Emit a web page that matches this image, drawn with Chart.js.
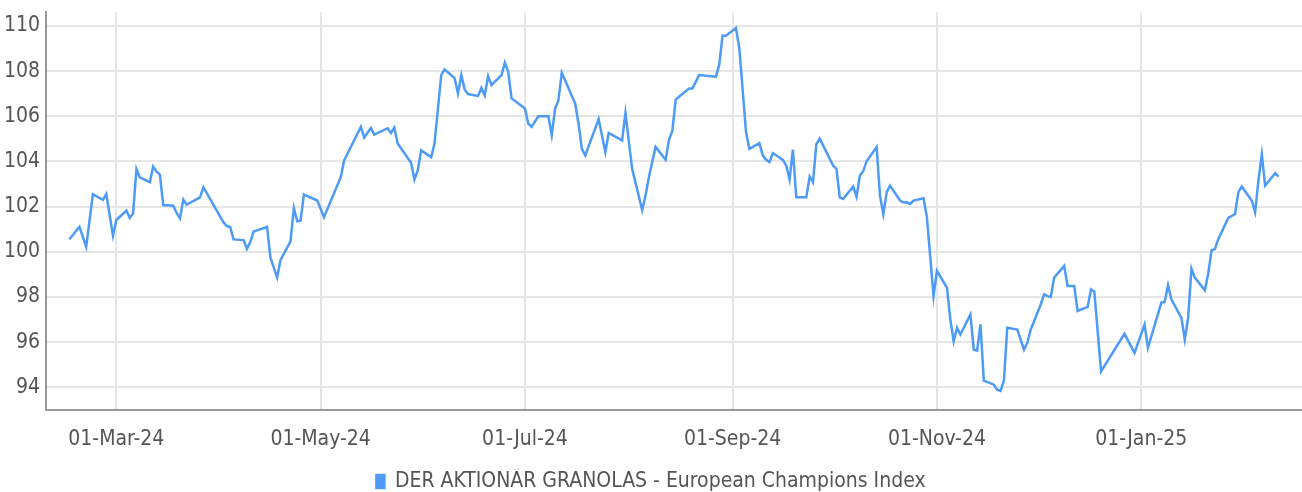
<!DOCTYPE html>
<html>
<head>
<meta charset="utf-8">
<script src="https://cdn.jsdelivr.net/npm/chart.js@4.4.1/dist/chart.umd.min.js"></script>
<style>
  html, body { margin: 0; padding: 0; background: #fff; overflow: hidden; }
</style>
</head>
<body>
<canvas id="myChart" width="1302" height="492"></canvas>
<script>
// Index values
const seriesName = 'DER AKTIONÄR GRANOLAS - European Champions Index';

const dates = [
  '2024-02-16','2024-02-19','2024-02-21','2024-02-23','2024-02-26','2024-02-27','2024-02-29','2024-03-01',
  '2024-03-04','2024-03-05','2024-03-06','2024-03-07','2024-03-08','2024-03-11','2024-03-12','2024-03-13',
  '2024-03-14','2024-03-15','2024-03-18','2024-03-19','2024-03-20','2024-03-21','2024-03-22','2024-03-26',
  '2024-03-27','2024-04-02','2024-04-03','2024-04-04','2024-04-05','2024-04-08','2024-04-09','2024-04-10',
  '2024-04-11','2024-04-12','2024-04-15','2024-04-16','2024-04-18','2024-04-19','2024-04-22','2024-04-23',
  '2024-04-24','2024-04-25','2024-04-26','2024-04-30','2024-05-02','2024-05-07','2024-05-08','2024-05-13',
  '2024-05-14','2024-05-16','2024-05-17','2024-05-21','2024-05-22','2024-05-23','2024-05-24','2024-05-28',
  '2024-05-29','2024-05-30','2024-05-31','2024-06-03','2024-06-04','2024-06-06','2024-06-07','2024-06-10',
  '2024-06-11','2024-06-12','2024-06-13','2024-06-14','2024-06-17','2024-06-18','2024-06-19','2024-06-20',
  '2024-06-21','2024-06-24','2024-06-25','2024-06-26','2024-06-27','2024-07-01','2024-07-02','2024-07-03',
  '2024-07-05','2024-07-08','2024-07-09','2024-07-10','2024-07-11','2024-07-12','2024-07-16','2024-07-17',
  '2024-07-18','2024-07-19','2024-07-23','2024-07-25','2024-07-26','2024-07-30','2024-07-31','2024-08-02',
  '2024-08-05','2024-08-06','2024-08-07','2024-08-09','2024-08-12','2024-08-13','2024-08-14','2024-08-15',
  '2024-08-16','2024-08-19','2024-08-20','2024-08-22','2024-08-27','2024-08-28','2024-08-29','2024-08-30',
  '2024-09-02','2024-09-03','2024-09-05','2024-09-06','2024-09-09','2024-09-10','2024-09-11','2024-09-12',
  '2024-09-13','2024-09-16','2024-09-17','2024-09-18','2024-09-19','2024-09-20','2024-09-23','2024-09-24',
  '2024-09-25','2024-09-26','2024-09-27','2024-10-01','2024-10-02','2024-10-03','2024-10-04','2024-10-07',
  '2024-10-08','2024-10-09','2024-10-10','2024-10-11','2024-10-14','2024-10-15','2024-10-16','2024-10-17',
  '2024-10-18','2024-10-21','2024-10-22','2024-10-23','2024-10-24','2024-10-25','2024-10-28','2024-10-29',
  '2024-10-31','2024-11-01','2024-11-04','2024-11-05','2024-11-06','2024-11-07','2024-11-08','2024-11-11',
  '2024-11-12','2024-11-13','2024-11-14','2024-11-15','2024-11-18','2024-11-19','2024-11-20','2024-11-21',
  '2024-11-22','2024-11-25','2024-11-27','2024-11-28','2024-11-29','2024-12-02','2024-12-03','2024-12-04',
  '2024-12-05','2024-12-06','2024-12-09','2024-12-10','2024-12-12','2024-12-13','2024-12-16','2024-12-17',
  '2024-12-18','2024-12-20','2024-12-27','2024-12-30','2025-01-02','2025-01-03','2025-01-07','2025-01-08',
  '2025-01-09','2025-01-10','2025-01-13','2025-01-14','2025-01-15','2025-01-16','2025-01-17','2025-01-20',
  '2025-01-21','2025-01-22','2025-01-23','2025-01-24','2025-01-27','2025-01-29','2025-01-30','2025-01-31',
  '2025-02-03','2025-02-04','2025-02-05','2025-02-06','2025-02-07','2025-02-10','2025-02-11'
];

const values = [
  100.56,101.11,100.22,102.55,102.30,102.56,100.71,101.41,
  101.82,101.50,101.70,103.67,103.30,103.08,103.78,103.55,
  103.42,102.07,102.04,101.72,101.48,102.31,102.09,102.41,
  102.86,101.30,101.14,101.10,100.55,100.52,100.13,100.43,
  100.90,100.95,101.10,99.75,98.86,99.63,100.46,101.94,
  101.35,101.38,102.53,102.27,101.53,103.30,104.04,105.53,
  105.05,105.48,105.19,105.47,105.26,105.50,104.79,103.94,
  103.20,103.60,104.49,104.19,104.79,107.82,108.07,107.69,
  107.01,107.82,107.19,106.98,106.90,107.25,106.92,107.78,
  107.38,107.82,108.37,107.97,106.79,106.34,105.67,105.53,
  106.00,106.00,105.16,106.34,106.71,107.93,106.56,105.67,
  104.56,104.27,105.88,104.41,105.26,104.93,106.15,103.67,
  101.85,102.49,103.30,104.64,104.07,104.96,105.35,106.74,
  106.86,107.23,107.23,107.82,107.75,108.27,109.57,109.56,
  109.90,109.01,105.30,104.56,104.81,104.27,104.07,103.97,
  104.37,104.07,103.82,103.20,104.52,102.41,102.41,103.33,
  103.08,104.76,105.01,103.82,103.67,102.41,102.34,102.89,
  102.44,103.38,103.57,104.01,104.64,102.49,101.67,102.64,
  102.93,102.27,102.18,102.19,102.12,102.27,102.37,101.55,
  98.04,99.16,98.41,97.01,96.04,96.64,96.34,97.23,
  95.67,95.63,96.79,94.30,94.12,93.90,93.85,94.30,
  96.64,96.56,95.67,95.97,96.56,97.67,98.12,98.04,
  98.00,98.86,99.38,98.49,98.49,97.38,97.56,98.34,
  98.24,94.71,96.37,95.53,96.79,95.75,97.75,97.78,
  98.53,97.90,97.08,96.12,97.08,99.26,98.86,98.30,
  99.04,100.07,100.12,100.56,101.50,101.67,102.64,102.89,
  102.27,101.75,103.16,104.31,102.93,103.48,103.33
];

const tickDates = ['2024-03-01', '2024-05-01', '2024-07-01', '2024-09-01', '2024-11-01', '2025-01-01'];
const tickLabels = ['01-Mar-24', '01-May-24', '01-Jul-24', '01-Sep-24', '01-Nov-24', '01-Jan-25'];
const yTicks = [94, 96, 98, 100, 102, 104, 106, 108, 110];

// days counted from 01-Mar-24 (no date adapter needed)
const base = Date.UTC(2024, 2, 1);
function dayOf(s) {
  const p = s.split('-').map(Number);
  return (Date.UTC(p[0], p[1] - 1, p[2]) - base) / 86400000;
}

const points = dates.map((d, i) => ({ x: dayOf(d), y: values[i] }));
const tickDays = tickDates.map(dayOf);

const lineColor = 'rgb(77, 155, 246)';
const textColor = '#555';
const fontFamily = "'Liberation Sans Narrow', 'DejaVu Sans Condensed', sans-serif";
const font = { family: fontFamily, size: 21 };

const ctx = document.getElementById('myChart').getContext('2d');
const myChart = new Chart(ctx, {
  type: 'line',
  data: {
    datasets: [{
      label: seriesName,
      data: points,
      borderColor: lineColor,
      backgroundColor: lineColor,
      borderWidth: 2.5,
      pointRadius: 0,
      tension: 0
    }]
  },
  options: {
    responsive: false,
    animation: false,
    layout: { padding: { top: 12, left: 0, right: 0, bottom: -10 } },
    plugins: {
      tooltip: { enabled: false },
      legend: {
        position: 'bottom',
        labels: {
          color: textColor,
          font: font,
          boxWidth: 8,
          boxHeight: 13,
          padding: 2
        }
      }
    },
    scales: {
      x: {
        type: 'linear',
        min: -21,
        max: 354,
        afterBuildTicks: (scale) => { scale.ticks = tickDays.map(v => ({ value: v })); },
        afterFit: (scale) => { scale.height = 59; },
        ticks: {
          autoSkip: false,
          maxRotation: 0,
          color: textColor,
          font: font,
          padding: 17,
          callback: (v, i) => tickLabels[i]
        },
        grid: { color: '#e6e6e6', lineWidth: 2, drawTicks: false },
        border: { color: '#999', width: 2 }
      },
      y: {
        min: 93,
        max: 110.6,
        afterBuildTicks: (scale) => { scale.ticks = yTicks.map(v => ({ value: v })); },
        afterFit: (scale) => { scale.width = 46; },
        ticks: {
          color: textColor,
          font: { family: fontFamily, size: 21, lineHeight: 0.6 },
          padding: 6,
          callback: (v) => v
        },
        grid: { color: '#e6e6e6', lineWidth: 2, drawTicks: false },
        border: { color: '#999', width: 2 }
      }
    }
  }
});
</script>
</body>
</html>
